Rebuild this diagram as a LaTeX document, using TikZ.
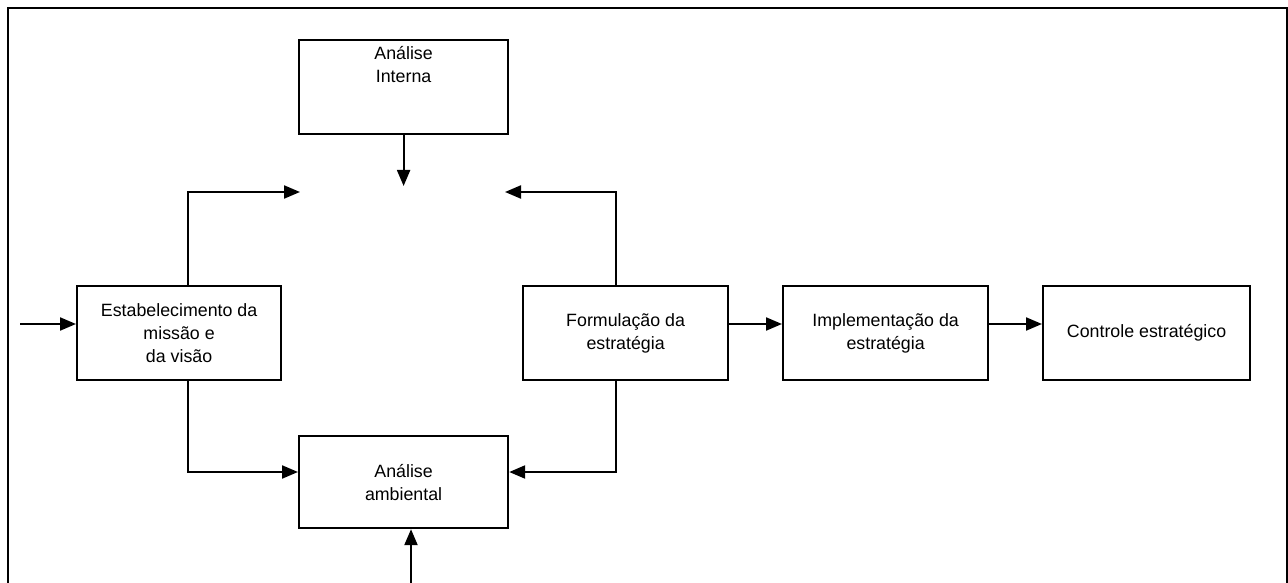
\documentclass[tikz,border=0pt]{standalone}
\usepackage{fontspec}
\setmainfont{Liberation Sans}
\usetikzlibrary{arrows.meta}
\begin{document}
\begin{tikzpicture}[x=1pt,y=-1pt,
  every node/.style={font=\fontsize{17.8}{23}\selectfont},
  box/.style={draw,line width=2.2pt,minimum width=#1,minimum height=94pt,
    align=center,inner sep=0pt,anchor=north west},
  box/.default=205pt,
  link/.style={line width=2.2pt,-{Triangle[length=16pt,width=13pt]}}]
\useasboundingbox (0,0) rectangle (1288,583);
% outer frame, open at the bottom
\draw[line width=2.2pt] (8,590) -- (8,8) -- (1287,8) -- (1287,590);
% process boxes
\node[box=209pt] (int) at (298,39) {};
\node[anchor=north,align=center] (intlbl) at (int.north) [yshift=-4pt] {Análise\\Interna};
\node[box=209pt,minimum height=92pt] (amb) at (298,435) {Análise\\ambiental};
\node[box=204pt] (mis) at (76,285) {Estabelecimento da\\missão e\\da visão};
\node[box=205pt] (form) at (522,285) {Formulação da\\estratégia};
\node[box=205pt] (impl) at (782,285) {Implementação da\\estratégia};
\node[box=207pt] (ctrl) at (1042,285) {Controle estratégico};
% free ends of the connectors
\coordinate (in) at (20,324);
\coordinate (src) at (411,583);
\coordinate (meetL) at (300,192);
\coordinate (meetR) at (505,192);
\coordinate (meetT) at (int.south |- 0,186);
% connectors
\draw[link] (in) -- (mis.west |- in);
\draw[link] (mis.north -| 188,0) |- (meetL);
\draw[link] (int.south) -- (meetT);
\draw[link] (form.north -| 616,0) |- (meetR);
\draw[link] (mis.south -| 188,0) |- (amb.west |- 0,472);
\draw[link] (form.south -| 616,0) |- (amb.east |- 0,472);
\draw[link] (src) -- (amb.south -| src);
\draw[link] (form.east |- in) -- (impl.west |- in);
\draw[link] (impl.east |- in) -- (ctrl.west |- in);
\end{tikzpicture}
\end{document}
